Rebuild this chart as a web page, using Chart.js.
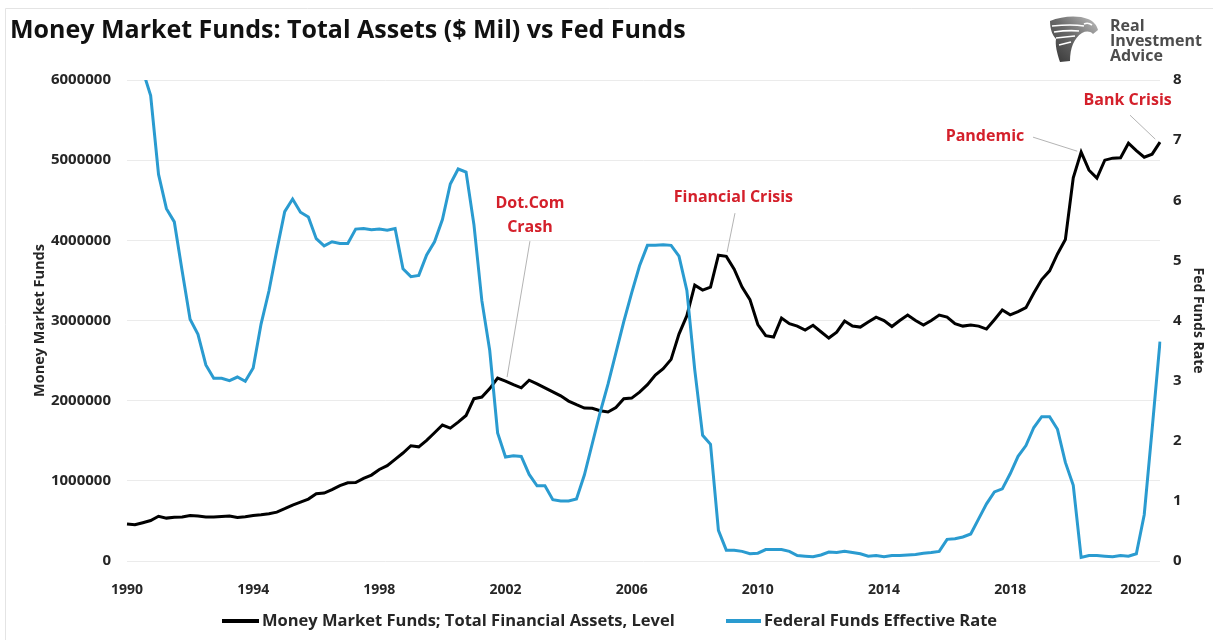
<!DOCTYPE html>
<html>
<head>
<meta charset="utf-8">
<title>Money Market Funds vs Fed Funds</title>
<script src="https://cdn.jsdelivr.net/npm/chart.js@4.4.1/dist/chart.umd.min.js"></script>
<style>
  html, body { margin: 0; padding: 0; background: #ffffff; }
  #wrap { position: relative; width: 1213px; height: 640px; }
</style>
</head>
<body>
<div id="wrap"><canvas id="chart" width="1213" height="640"></canvas></div>
<script>
// Quarterly observations, 1990 Q1 through 2022 Q4
const firstYear = 1990;
const lastYear = 2022;
const quarterLabels = [];
for (let y = firstYear; y <= lastYear; y++) {
  for (let q = 1; q <= 4; q++) quarterLabels.push(y + ' Q' + q);
}

// Years that carry a label on the time axis
const tickYears = ['1990', '1994', '1998', '2002', '2006', '2010', '2014', '2018', '2022'];

// Money market funds; total financial assets, level ($ millions)
const moneyMarketAssets = [
  461000, 452000, 478000, 505000,   558000, 535000, 545000, 550000,   // 1990-1991
  568000, 560000, 550000, 548000,   556000, 560000, 542000, 552000,   // 1992-1993
  568000, 576000, 590000, 610000,   652000, 698000, 735000, 772000,   // 1994-1995
  838000, 848000, 890000, 940000,   975000, 978000, 1030000, 1072000, // 1996-1997
  1142000, 1190000, 1268000, 1347000, 1438000, 1424000, 1505000, 1600000, // 1998-1999
  1696000, 1658000, 1733000, 1815000, 2025000, 2045000, 2150000, 2282000, // 2000-2001
  2245000, 2200000, 2160000, 2255000, 2210000, 2160000, 2110000, 2060000, // 2002-2003
  1995000, 1950000, 1908000, 1905000, 1875000, 1858000, 1915000, 2025000, // 2004-2005
  2032000, 2107000, 2200000, 2320000, 2400000, 2515000, 2830000, 3060000, // 2006-2007
  3441000, 3380000, 3416000, 3815000, 3800000, 3640000, 3416000, 3260000, // 2008-2009
  2950000, 2810000, 2793000, 3030000, 2960000, 2930000, 2880000, 2940000, // 2010-2011
  2860000, 2781000, 2855000, 2993000, 2930000, 2918000, 2980000, 3042000, // 2012-2013
  3000000, 2925000, 3000000, 3067000, 3000000, 2943000, 3000000, 3067000, // 2014-2015
  3042000, 2960000, 2930000, 2943000, 2930000, 2893000, 3010000, 3130000, // 2016-2017
  3070000, 3110000, 3160000, 3342000, 3510000, 3620000, 3830000, 4010000, // 2018-2019
  4780000, 5100000, 4875000, 4776000, 5000000, 5025000, 5030000, 5212000, // 2020-2021
  5120000, 5037000, 5075000, 5225000                                      // 2022
];

// Federal funds effective rate (%), quarterly average
const fedFundsRate = [
  8.25, 8.24, 8.16, 7.74,   6.43, 5.86, 5.64, 4.82,   // 1990-1991
  4.02, 3.77, 3.26, 3.04,   3.04, 3.00, 3.06, 2.99,   // 1992-1993
  3.21, 3.94, 4.49, 5.17,   5.81, 6.02, 5.80, 5.72,   // 1994-1995
  5.36, 5.24, 5.31, 5.28,   5.28, 5.52, 5.53, 5.51,   // 1996-1997
  5.52, 5.50, 5.53, 4.86,   4.73, 4.75, 5.09, 5.31,   // 1998-1999
  5.68, 6.27, 6.52, 6.47,   5.59, 4.33, 3.50, 2.13,   // 2000-2001
  1.73, 1.75, 1.74, 1.44,   1.25, 1.25, 1.02, 1.00,   // 2002-2003
  1.00, 1.03, 1.43, 1.95,   2.47, 2.94, 3.46, 3.98,   // 2004-2005
  4.46, 4.91, 5.25, 5.25,   5.26, 5.25, 5.07, 4.50,   // 2006-2007
  3.18, 2.09, 1.94, 0.51,   0.18, 0.18, 0.16, 0.12,   // 2008-2009
  0.13, 0.19, 0.19, 0.19,   0.16, 0.09, 0.08, 0.07,   // 2010-2011
  0.10, 0.15, 0.14, 0.16,   0.14, 0.12, 0.08, 0.09,   // 2012-2013
  0.07, 0.09, 0.09, 0.10,   0.11, 0.13, 0.14, 0.16,   // 2014-2015
  0.36, 0.37, 0.40, 0.45,   0.70, 0.95, 1.15, 1.20,   // 2016-2017
  1.45, 1.74, 1.92, 2.22,   2.40, 2.40, 2.19, 1.64,   // 2018-2019
  1.26, 0.06, 0.09, 0.09,   0.08, 0.07, 0.09, 0.08,   // 2020-2021
  0.12, 0.77, 2.19, 3.65                              // 2022
];

const seriesNames = ['Money Market Funds; Total Financial Assets, Level', 'Federal Funds Effective Rate'];
const seriesColors = ['#000000', '#2a9bd0'];

// Event call-outs: text lines, label centre (quarter index, left-axis value),
// and a leader running between two (quarter index, left-axis value) points
const callouts = [
  { lines: ['Dot.Com', 'Crash'], at: [51.1, 4464000], from: [51.1, 3990000], to: [48.2, 2294000] },
  { lines: ['Financial Crisis'], at: [76.9, 4539000], from: [77.1, 4339000], to: [76.1, 3853000] },
  { lines: ['Pandemic'], at: [108.8, 5299000], from: [114.9, 5287000], to: [120.5, 5112000] },
  { lines: ['Bank Crisis'], at: [126.9, 5748000], from: [127.2, 5561000], to: [130.4, 5262000] }
];

const FONT = '"Open Sans", "Noto Sans", "DejaVu Sans", sans-serif';
const INK = '#262626';

function drawEagle(ctx, x, y) {
  ctx.save();
  ctx.translate(x, y);
  const g = ctx.createLinearGradient(0, 48, 46, 0);
  g.addColorStop(0, '#2f2f2f');
  g.addColorStop(0.55, '#6a6a6a');
  g.addColorStop(1, '#bdbdbd');
  ctx.fillStyle = g;
  ctx.beginPath();
  ctx.moveTo(2, 6);
  ctx.bezierCurveTo(14, 1, 30, 0, 40, 4);
  ctx.bezierCurveTo(45, 6, 49, 10, 50, 15);
  ctx.lineTo(45, 19);
  ctx.bezierCurveTo(42, 16, 38, 16, 34, 18);
  ctx.bezierCurveTo(26, 23, 22, 33, 22, 46);
  ctx.lineTo(12, 47);
  ctx.bezierCurveTo(9, 38, 7, 30, 8, 24);
  ctx.bezierCurveTo(4, 20, 2, 13, 2, 6);
  ctx.closePath();
  ctx.fill();
  // feather bands
  ctx.strokeStyle = '#ffffff';
  ctx.lineWidth = 1.6;
  const bands = [[4, 11, 24, 9, 36, 11], [6, 17, 20, 15, 31, 16], [8, 23, 17, 22, 27, 21], [11, 30, 15, 29, 23, 27]];
  bands.forEach(b => {
    ctx.beginPath();
    ctx.moveTo(b[0], b[1]);
    ctx.quadraticCurveTo(b[2], b[3], b[4], b[5]);
    ctx.stroke();
  });
  // eye
  ctx.beginPath();
  ctx.moveTo(36, 9);
  ctx.quadraticCurveTo(40, 7, 44, 10);
  ctx.stroke();
  ctx.restore();
}

const decorations = {
  id: 'decorations',
  beforeDraw(chart) {
    const ctx = chart.ctx;
    ctx.save();
    ctx.fillStyle = '#ffffff';
    ctx.fillRect(0, 0, chart.width, chart.height);
    // faint frame
    ctx.strokeStyle = '#e4e4e4';
    ctx.lineWidth = 1;
    ctx.beginPath();
    ctx.moveTo(5.5, 640);
    ctx.lineTo(5.5, 8.5);
    ctx.lineTo(1213, 8.5);
    ctx.stroke();
    // title
    ctx.fillStyle = '#111111';
    ctx.font = 'bold 25px ' + FONT;
    ctx.textBaseline = 'middle';
    ctx.textAlign = 'left';
    ctx.fillText('Money Market Funds: Total Assets ($ Mil) vs Fed Funds', 10, 31);
    // brand mark
    drawEagle(ctx, 1048, 15);
    ctx.fillStyle = '#4d4d4d';
    ctx.font = 'bold 16px ' + FONT;
    ctx.textBaseline = 'alphabetic';
    ctx.fillText('Real', 1110, 31);
    ctx.fillText('Investment', 1110, 46);
    ctx.fillText('Advice', 1110, 61);
    ctx.restore();
  },
  afterDraw(chart) {
    const ctx = chart.ctx;
    const xs = chart.scales.x;
    const ys = chart.scales.yMMF;
    ctx.save();
    // call-outs
    callouts.forEach(c => {
      ctx.strokeStyle = '#b4b4b4';
      ctx.lineWidth = 1;
      ctx.beginPath();
      ctx.moveTo(xs.getPixelForValue(c.from[0]), ys.getPixelForValue(c.from[1]));
      ctx.lineTo(xs.getPixelForValue(c.to[0]), ys.getPixelForValue(c.to[1]));
      ctx.stroke();
      ctx.fillStyle = '#d4202b';
      ctx.font = 'bold 16px ' + FONT;
      ctx.textAlign = 'center';
      ctx.textBaseline = 'middle';
      const cx = xs.getPixelForValue(c.at[0]);
      const cy = ys.getPixelForValue(c.at[1]);
      c.lines.forEach((t, k) => ctx.fillText(t, cx, cy + k * 24));
    });
    // legend
    const items = [[222, 259, 262], [726, 761, 764]];
    chart.data.datasets.forEach((ds, i) => {
      const it = items[i];
      ctx.strokeStyle = ds.borderColor;
      ctx.lineWidth = 4;
      ctx.beginPath();
      ctx.moveTo(it[0], 621);
      ctx.lineTo(it[1], 621);
      ctx.stroke();
      ctx.fillStyle = INK;
      ctx.font = 'bold 16.5px ' + FONT;
      ctx.textAlign = 'left';
      ctx.textBaseline = 'middle';
      ctx.fillText(ds.label, it[2], 621);
    });
    ctx.restore();
  }
};

const tickFont = { family: FONT, size: 15, weight: 'bold' };

new Chart(document.getElementById('chart'), {
  type: 'line',
  data: {
    labels: quarterLabels,
    datasets: [
      {
        label: seriesNames[0],
        data: moneyMarketAssets,
        yAxisID: 'yMMF',
        borderColor: seriesColors[0],
        backgroundColor: seriesColors[0],
        borderWidth: 3,
        pointRadius: 0,
        tension: 0,
        order: 1
      },
      {
        label: seriesNames[1],
        data: fedFundsRate,
        yAxisID: 'yFed',
        borderColor: seriesColors[1],
        backgroundColor: seriesColors[1],
        borderWidth: 3,
        pointRadius: 0,
        tension: 0,
        order: 0
      }
    ]
  },
  options: {
    responsive: false,
    animation: false,
    events: [],
    layout: { padding: { top: 80, bottom: 40, left: 0, right: 0 } },
    plugins: {
      legend: { display: false },
      title: { display: false },
      tooltip: { enabled: false }
    },
    scales: {
      x: {
        type: 'category',
        offset: false,
        grid: { display: false },
        border: { display: false },
        ticks: {
          autoSkip: false,
          maxRotation: 0,
          minRotation: 0,
          padding: 13,
          color: INK,
          font: { family: FONT, size: 14, weight: 'bold' },
          callback(value) {
            const lab = this.getLabelForValue(value);
            const yr = lab.slice(0, 4);
            return lab.endsWith('Q1') && tickYears.includes(yr) ? yr : '';
          }
        },
        afterFit(s) { s.height = 39; }
      },
      yMMF: {
        position: 'left',
        min: 0,
        max: 6000000,
        grid: { color: '#ebebeb', lineWidth: 1, drawTicks: false },
        border: { display: false },
        ticks: {
          stepSize: 1000000,
          padding: 16,
          color: INK,
          font: tickFont,
          callback: v => String(v)
        },
        title: {
          display: true,
          text: 'Money Market Funds',
          color: INK,
          font: { family: FONT, size: 14.5, weight: 'bold' },
          padding: { top: 31, bottom: 0 }
        },
        afterFit(s) { s.width = 127; }
      },
      yFed: {
        position: 'right',
        min: 0,
        max: 8,
        grid: { display: false, drawTicks: false },
        border: { display: false },
        ticks: {
          stepSize: 1,
          padding: 13,
          color: INK,
          font: tickFont,
          callback: v => String(v)
        },
        title: {
          display: true,
          text: 'Fed Funds Rate',
          color: INK,
          font: { family: FONT, size: 14, weight: 'bold' },
          padding: { top: 7, bottom: 0 }
        },
        afterFit(s) { s.width = 53; }
      }
    }
  },
  plugins: [decorations]
});
</script>
</body>
</html>
